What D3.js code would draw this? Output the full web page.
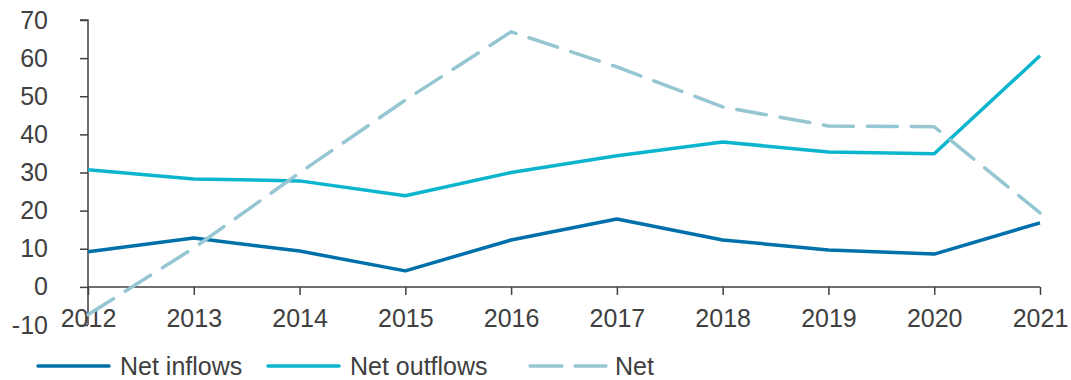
<!DOCTYPE html>
<html>
<head>
<meta charset="utf-8">
<script src="https://cdn.jsdelivr.net/npm/d3@7"></script>
<style>
  body { margin: 0; background: #fff; }
  text { font-family: "Liberation Sans", Arial, sans-serif; fill: #404040; }
</style>
</head>
<body>
<script>
var years = [2012, 2013, 2014, 2015, 2016, 2017, 2018, 2019, 2020, 2021];
var netInflows = [9.2, 12.8, 9.4, 4.2, 12.3, 17.8, 12.3, 9.7, 8.6, 16.8];
var netOutflows = [30.7, 28.3, 27.8, 23.9, 30.0, 34.4, 38.0, 35.4, 34.9, 60.6];
var net = [-7.3, 10.2, 29.9, 49.0, 66.9, 57.7, 47.2, 42.2, 42.0, 19.4];
var yTicks = [-10, 0, 10, 20, 30, 40, 50, 60, 70];

var width = 1071, height = 380;
var margin = { top: 20, right: 31, bottom: 55, left: 88 };

var series = [
  { name: 'Net inflows', values: netInflows, color: '#0070aa', dash: null },
  { name: 'Net outflows', values: netOutflows, color: '#0bb5cd', dash: null },
  { name: 'Net', values: net, color: '#95c6d2', dash: '30,14' }
];

var svg = d3.select('body').append('svg')
  .attr('width', width)
  .attr('height', height);

var x = d3.scaleLinear()
  .domain([2012, 2021])
  .range([margin.left, width - margin.right]);

var y = d3.scaleLinear()
  .domain([-10, 70])
  .range([325, margin.top]);

// y axis
var yAxis = svg.append('g')
  .attr('transform', 'translate(' + margin.left + ',0)')
  .call(d3.axisLeft(y).tickValues(yTicks).tickSize(8).tickPadding(32).tickFormat(function(d) { return String(d); }));
yAxis.select('.domain').attr('d', 'M-8,' + y(70) + 'H0V' + y(-10)).attr('stroke', '#404040').attr('stroke-width', 1.5);
yAxis.selectAll('.tick line').attr('stroke', '#404040').attr('stroke-width', 1.5);
yAxis.selectAll('.tick text').style('font-size', '25px').attr('fill', '#404040')
  .style('font-family', '"Liberation Sans", Arial, sans-serif');

// x axis sits on zero
var xAxis = svg.append('g')
  .attr('transform', 'translate(0,' + y(0) + ')')
  .call(d3.axisBottom(x).tickValues(years).tickSize(8).tickPadding(14).tickFormat(function(d) { return String(d); }));
xAxis.select('.domain').attr('d', 'M' + margin.left + ',0H' + (width - margin.right)).attr('stroke', '#404040').attr('stroke-width', 1.5);
xAxis.selectAll('.tick line').attr('stroke', '#404040').attr('stroke-width', 1.5);
xAxis.selectAll('.tick text').style('font-size', '25px').attr('fill', '#404040')
  .style('font-family', '"Liberation Sans", Arial, sans-serif');

var line = d3.line()
  .x(function(d, i) { return x(years[i]); })
  .y(function(d) { return y(d); });

series.forEach(function(s) {
  svg.append('path')
    .datum(s.values)
    .attr('d', line)
    .attr('fill', 'none')
    .attr('stroke', s.color)
    .attr('stroke-width', 3.5)
    .attr('stroke-linejoin', 'round')
    .attr('stroke-linecap', s.dash ? 'round' : 'butt')
    .attr('stroke-dasharray', s.dash);
});

// legend
var legendX = [38, 268, 530];
var legend = svg.selectAll('.legend')
  .data(series)
  .enter()
  .append('g')
  .attr('class', 'legend')
  .attr('transform', function(d, i) { return 'translate(' + legendX[i] + ',366)'; });

legend.append('line')
  .attr('x1', 0)
  .attr('x2', function(d) { return d.dash ? 76 : 71; })
  .attr('y1', 0)
  .attr('y2', 0)
  .attr('stroke', function(d) { return d.color; })
  .attr('stroke-width', 3.5)
  .attr('stroke-linecap', 'round')
  .attr('stroke-dasharray', function(d) { return d.dash ? '32,13' : null; });

legend.append('text')
  .attr('x', function(d) { return d.dash ? 85 : 82; })
  .attr('y', 0)
  .attr('dy', '0.35em')
  .style('font-size', '25px')
  .text(function(d) { return d.name; });
</script>
</body>
</html>
